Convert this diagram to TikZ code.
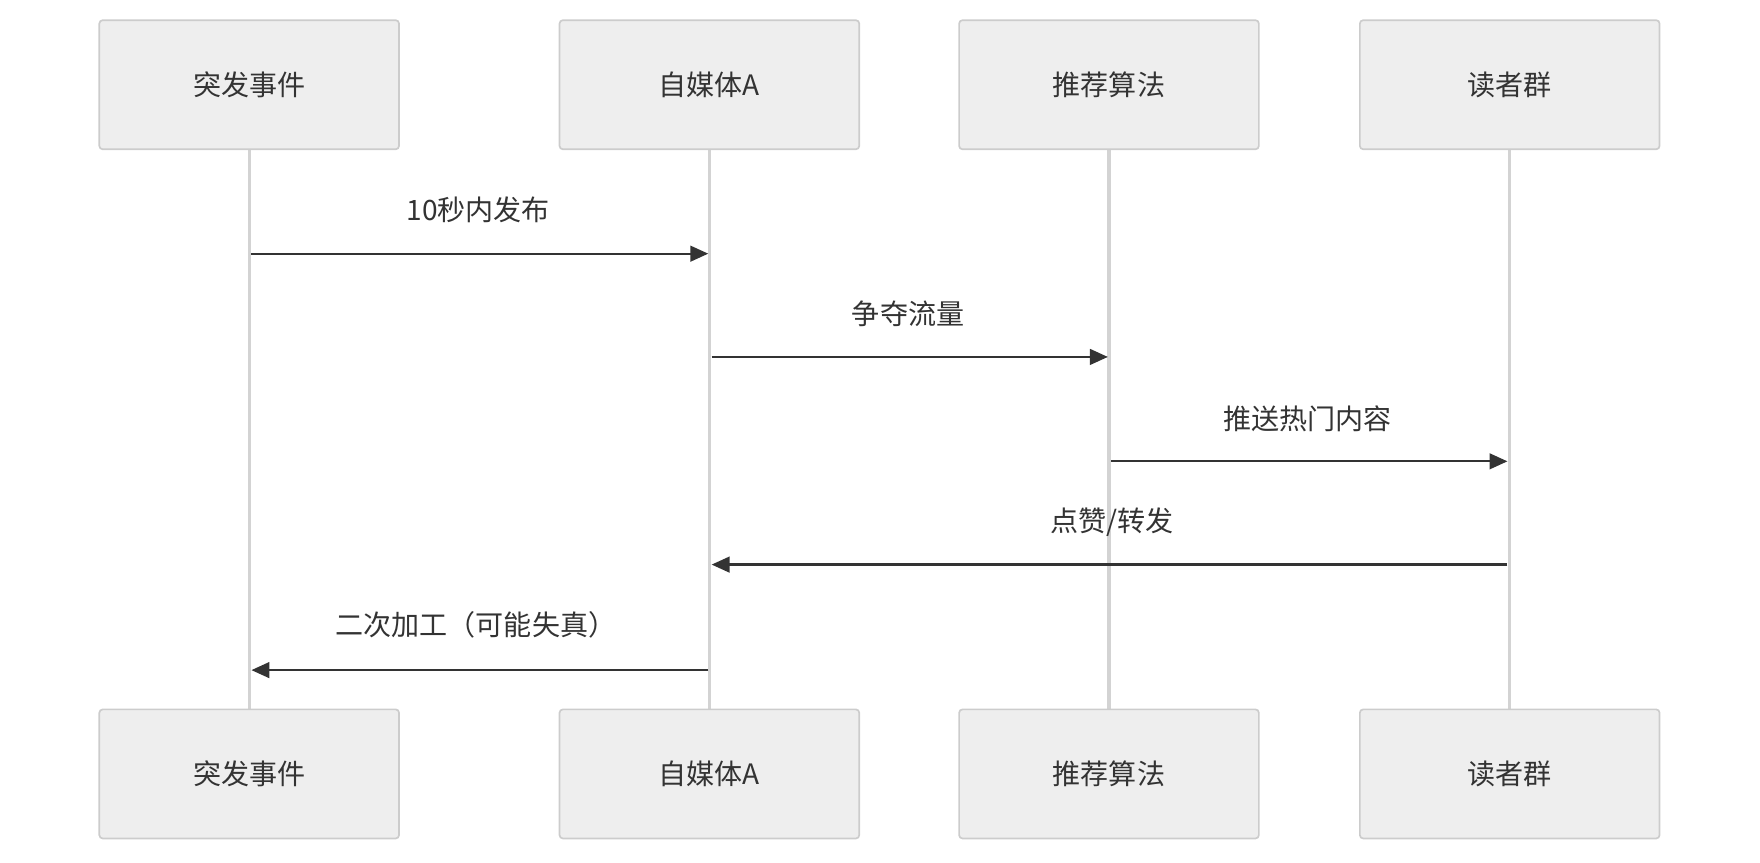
\documentclass[tikz,border=0pt]{standalone}
\usepackage{fontspec}
\setmainfont{Noto Sans CJK SC}
\usetikzlibrary{arrows.meta}
\definecolor{boxfill}{HTML}{EEEEEE}
\definecolor{boxline}{HTML}{CCCCCC}
\definecolor{life}{HTML}{D3D3D3}
\definecolor{ink}{HTML}{333333}
\begin{document}
\begin{tikzpicture}[x=1pt,y=-1pt,
  actor/.style={draw=boxline,line width=1.5pt,fill=boxfill,rounded corners=3pt,minimum width=267pt,minimum height=115pt,inner sep=0pt,font=\fontsize{25}{30}\selectfont,text=ink},
  life/.style={draw=life,line width=3pt},
  msg/.style={draw=ink,line width=2pt,-{Triangle[length=16pt,width=14pt]}},
  lbl/.style={font=\fontsize{25}{30}\selectfont,text=ink}]
\useasboundingbox (0,0) rectangle (1568,768);
\foreach \n/\x/\t in {a/222/突发事件,b/632/自媒体A,c/988/推荐算法,d/1345/读者群}{
  \draw[life] (\x,133) -- (\x,632);
  \node[actor] (\n1) at (\x,75.5) {\t};
  \node[actor] (\n2) at (\x,689.5) {\t};
}
\coordinate (a1) at (224,226); \coordinate (b1) at (631,226);
\coordinate (b2) at (634,318); \coordinate (c2) at (987,318);
\coordinate (c3) at (990,411); \coordinate (d3) at (1343,411);
\coordinate (d4) at (1343,503); \coordinate (b4) at (634,503);
\coordinate (b5) at (631,597); \coordinate (a5) at (224,597);
\draw[msg] (a1) -- (b1);
\draw[msg] (b2) -- (c2);
\draw[msg] (c3) -- (d3);
\draw[msg] (d4) -- (b4);
\draw[msg] (b5) -- (a5);
\node[lbl] (l1) at (426,187) {10秒内发布};
\node[lbl] (l2) at (809,280) {争夺流量};
\node[lbl] (l3) at (1165,373) {推送热门内容};
\node[lbl] (l4) at (991,465) {点赞/转发};
\node[lbl] (l5) at (424,557) {二次加工（可能失真）};
\end{tikzpicture}
\end{document}
